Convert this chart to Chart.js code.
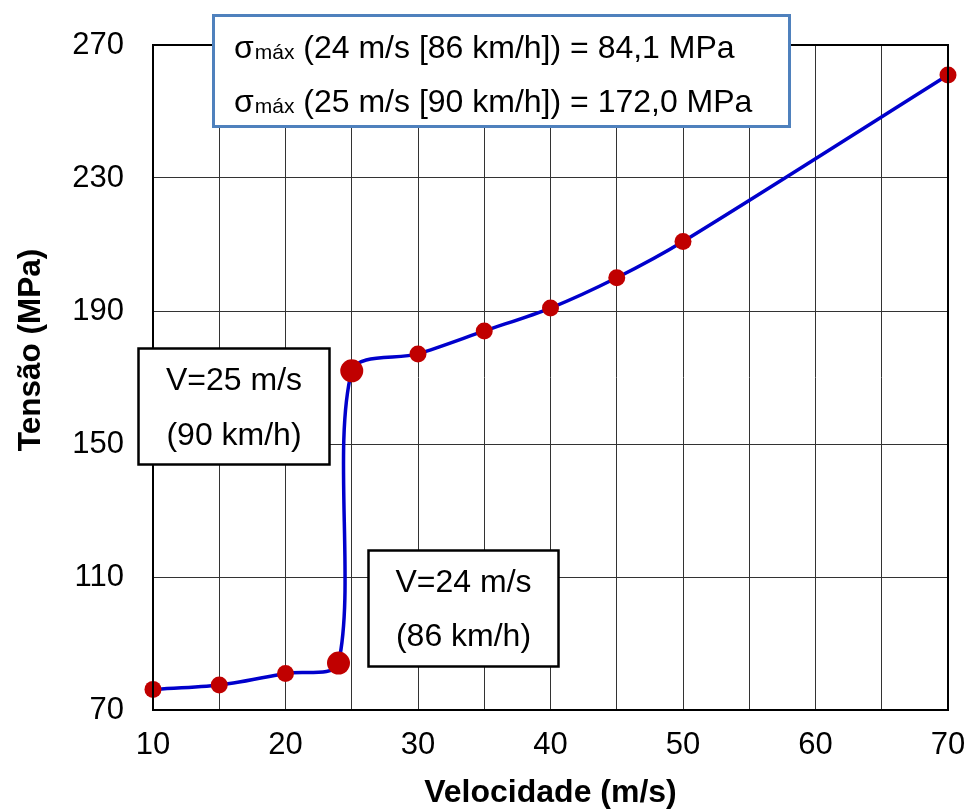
<!DOCTYPE html>
<html>
<head>
<meta charset="utf-8">
<style>
  html, body { margin: 0; padding: 0; background: #ffffff; }
  #wrap { width: 972px; height: 811px; position: relative; }
  canvas { display: block; }
</style>
<script src="https://cdn.jsdelivr.net/npm/chart.js@4.4.1/dist/chart.umd.min.js"></script>
</head>
<body>
<div id="wrap"><canvas id="c" width="972" height="811"></canvas></div>
<script>
// ---- data ----
const velocity = [10, 15, 20, 24, 25, 30, 35, 40, 45, 50, 70];          // m/s
const stress   = [76.2, 77.5, 81.0, 84.1, 172.0, 177.1, 184.0, 190.9, 200.0, 210.9, 261.0]; // MPa
const xTickValues = [10, 20, 30, 40, 50, 60, 70];
const yTickValues = [70, 110, 150, 190, 230, 270];
const xTitle = 'Velocidade (m/s)';
const yTitle = 'Tensão (MPa)';
const summaryLines = [
  { pre: 'σ', sub: 'máx', post: ' (24 m/s [86 km/h]) = 84,1 MPa' },
  { pre: 'σ', sub: 'máx', post: ' (25 m/s [90 km/h]) = 172,0 MPa' }
];
const label25 = ['V=25 m/s', '(90 km/h)'];
const label24 = ['V=24 m/s', '(86 km/h)'];

const FONT = "'Liberation Sans', Arial, Helvetica, sans-serif";

const points = velocity.map((v, i) => ({ x: v, y: stress[i] }));

const overlayPlugin = {
  id: 'overlay',
  afterDraw(chart) {
    const { ctx, chartArea: a } = chart;
    ctx.save();
    // plot frame
    ctx.strokeStyle = '#000';
    ctx.lineWidth = 2;
    ctx.strokeRect(a.left, a.top, a.right - a.left, a.bottom - a.top);

    // y axis title
    ctx.save();
    ctx.translate(31, 350);
    ctx.rotate(-Math.PI / 2);
    ctx.font = 'bold 31.5px ' + FONT;
    ctx.fillStyle = '#000';
    ctx.textAlign = 'center';
    ctx.textBaseline = 'middle';
    ctx.fillText(yTitle, 0, 0);
    ctx.restore();

    // summary box
    ctx.fillStyle = '#fff';
    ctx.fillRect(212, 14, 579, 114);
    ctx.strokeStyle = '#4F81BD';
    ctx.lineWidth = 3;
    ctx.strokeRect(213.5, 15.5, 576, 111);
    ctx.fillStyle = '#000';
    ctx.textBaseline = 'alphabetic';
    ctx.textAlign = 'left';
    const baselines = [58, 112];
    summaryLines.forEach((ln, i) => {
      let x = 234;
      const y = baselines[i];
      ctx.font = '32px ' + FONT;
      ctx.fillText(ln.pre, x, y);
      x += ctx.measureText(ln.pre).width;
      ctx.font = '21px ' + FONT;
      ctx.fillText(ln.sub, x + 1, y + 1);
      x += ctx.measureText(ln.sub).width + 1;
      ctx.font = '32px ' + FONT;
      ctx.fillText(ln.post, x, y);
    });

    // callout boxes
    function box(x, y, w, h, lines, cy) {
      ctx.fillStyle = '#fff';
      ctx.fillRect(x, y, w, h);
      ctx.strokeStyle = '#000';
      ctx.lineWidth = 2.5;
      ctx.strokeRect(x, y, w, h);
      ctx.fillStyle = '#000';
      ctx.font = '32px ' + FONT;
      ctx.textAlign = 'center';
      ctx.textBaseline = 'middle';
      lines.forEach((t, i) => ctx.fillText(t, x + w / 2, cy[i]));
    }
    box(138.5, 348.5, 191, 116, label25, [381, 436]);
    box(368.5, 550.5, 190, 116, label24, [583, 637]);
    ctx.restore();
  }
};

new Chart(document.getElementById('c'), {
  type: 'scatter',
  data: {
    datasets: [{
      data: points,
      showLine: true,
      borderColor: '#0000CC',
      borderWidth: 3.5,
      tension: 0.3,
      pointBackgroundColor: '#C00000',
      pointBorderColor: '#C00000',
      pointBorderWidth: 0,
      pointRadius: ctx => (ctx.dataIndex === 3 || ctx.dataIndex === 4) ? 11.5 : 8.5,
      clip: false
    }]
  },
  options: {
    responsive: false,
    animation: false,
    devicePixelRatio: 1,
    layout: { padding: { left: 0, top: 45, right: 24, bottom: 0 } },
    plugins: { legend: { display: false }, tooltip: { enabled: false } },
    scales: {
      x: {
        type: 'linear',
        min: 10, max: 70,
        afterBuildTicks(scale) {
          const t = [];
          for (let v = 10; v <= 70; v += 5) t.push({ value: v });
          scale.ticks = t;
        },
        afterFit(scale) {
          scale.height = 101;
          scale.paddingLeft = 0;
          scale.paddingRight = 0;
        },
        grid: { color: '#333', lineWidth: 1, drawTicks: false },
        border: { display: false },
        ticks: {
          padding: 17,
          color: '#000',
          font: { family: FONT, size: 31 },
          maxRotation: 0,
          autoSkip: false,
          callback: v => xTickValues.includes(v) ? String(v) : ''
        },
        title: {
          display: true,
          text: xTitle,
          color: '#000',
          font: { family: FONT, size: 32, weight: 'bold', lineHeight: 1.1 },
          padding: { top: 0, bottom: 0 }
        }
      },
      y: {
        type: 'linear',
        min: 70, max: 270,
        afterBuildTicks(scale) { scale.ticks = yTickValues.map(v => ({ value: v })); },
        afterFit(scale) {
          scale.width = 153;
          scale.paddingTop = 0;
          scale.paddingBottom = 0;
        },
        grid: { color: '#333', lineWidth: 1, drawTicks: false },
        border: { display: false },
        ticks: {
          padding: 29,
          color: '#000',
          font: { family: FONT, size: 31 },
          callback: v => String(v)
        }
      }
    }
  },
  plugins: [overlayPlugin]
});
</script>
</body>
</html>
